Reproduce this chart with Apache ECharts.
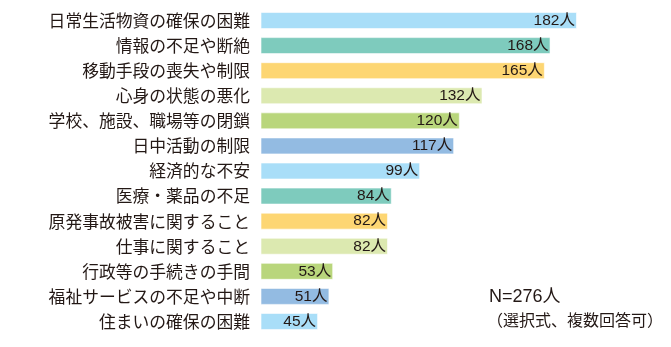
<!DOCTYPE html>
<html><head><meta charset="utf-8">
<script src="https://cdn.jsdelivr.net/npm/echarts@6/dist/echarts.min.js"></script>
<style>html,body{margin:0;padding:0;background:#fff}#c{width:671px;height:347px}</style>
</head><body><div id="c"></div>
<script>
const categories = ['日常生活物資の確保の困難','情報の不足や断絶','移動手段の喪失や制限','心身の状態の悪化','学校、施設、職場等の閉鎖','日中活動の制限','経済的な不安','医療・薬品の不足','原発事故被害に関すること','仕事に関すること','行政等の手続きの手間','福祉サービスの不足や中断','住まいの確保の困難'];
const values = [182,168,165,132,120,117,99,84,82,82,53,51,45];
const colors = ['#a9def8','#7ecbbd','#fdd673','#dce9b0','#b9d67c','#93bbe2'];
const unit = '人';
const noteLines = ['N=276人','（選択式、複数回答可）'];

const chart = echarts.init(document.getElementById('c'));
chart.setOption({
  animation:false,
  grid:{left:261, top:8, width:350, height:326},
  xAxis:{type:'value', min:14.8, max:200, show:false},
  yAxis:{type:'category', data:categories, inverse:true,
    axisLine:{show:false}, axisTick:{show:false}, splitLine:{show:false},
    axisLabel:{margin:11, fontSize:16.8, color:'#231815', fontFamily:'"Noto Sans CJK JP", sans-serif'}},
  series:[{type:'bar', barWidth:17, clip:true,
    data: values.map((v,i)=>({value:v, itemStyle:{color:colors[i%colors.length], borderColor:'rgba(255,255,255,0.6)', borderWidth:1}})),
    label:{show:true, position:'insideRight', distance:2, fontSize:15.5, color:'#231815',
      fontFamily:'"Liberation Sans", "Noto Sans CJK JP", sans-serif',
      formatter:p=>p.value+unit}
  }],
  graphic:[
    {type:'text', left:489, top:288, style:{text:noteLines[0], fontSize:18, fill:'#231815', fontFamily:'"Liberation Sans", "Noto Sans CJK JP", sans-serif'}},
    {type:'text', left:487, top:312, style:{text:noteLines[1], fontSize:16, fill:'#231815', fontFamily:'"Noto Sans CJK JP", sans-serif'}}
  ]
});
</script></body></html>
